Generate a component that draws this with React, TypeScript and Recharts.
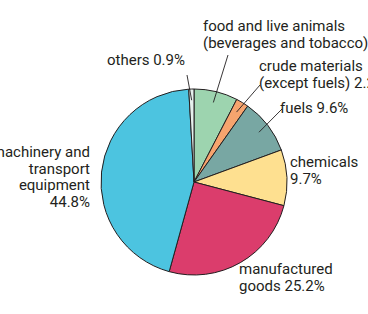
import { PieChart, Pie, Cell } from 'recharts';

const categories = [
  'food and live animals (beverages and tobacco)',
  'crude materials (except fuels)',
  'fuels',
  'chemicals',
  'manufactured goods',
  'machinery and transport equipment',
  'others'
];
const shares = [7.6, 2.2, 9.6, 9.7, 25.2, 44.8, 0.9];
const labelLines = [
  ['food and live animals', '(beverages and tobacco) 7.6%'],
  ['crude materials', '(except fuels) 2.2%'],
  ['fuels 9.6%'],
  ['chemicals', '9.7%'],
  ['manufactured', 'goods 25.2%'],
  ['machinery and', 'transport', 'equipment', '44.8%'],
  ['others 0.9%']
];
const colors = ['#9dd4af', '#f6a46e', '#78a7a3', '#fee090', '#db3d6c', '#4cc4e0', '#e6f1ed'];

// label placement relative to pie centre: text start, anchor, optional leader line
const labelPlace = [
  { dx: 9, dy: -151, anchor: 'start', line: [34, -127] },
  { dx: 65, dy: -111, anchor: 'start', line: [66, -97] },
  { dx: 86, dy: -69, anchor: 'start', line: [88, -73] },
  { dx: 96, dy: -15, anchor: 'start' },
  { dx: 45, dy: 92, anchor: 'start' },
  { dx: -104, dy: -25, anchor: 'end' },
  { dx: -9, dy: -117, anchor: 'end', line: [-7, -107] }
];

const data = categories.map((name, i) => ({ name, value: shares[i] }));

const FONT = 'Roboto, "Liberation Sans", sans-serif';
const LINE_H = 16.5;

function renderLabel(props: any) {
  const { cx, cy, midAngle, outerRadius, index } = props;
  const p = labelPlace[index];
  const rad = Math.PI / 180;
  const tx = cx + p.dx;
  const ty = cy + p.dy;
  let leader = null;
  if (p.line) {
    const r = outerRadius * 0.88;
    const ex = cx + r * Math.cos(-midAngle * rad);
    const ey = cy + r * Math.sin(-midAngle * rad);
    leader = (
      <line x1={cx + p.line[0]} y1={cy + p.line[1]} x2={ex} y2={ey} stroke="#231f20" strokeWidth={0.9} />
    );
  }
  return (
    <g key={`lbl-${index}`}>
      {leader}
      <text x={tx} y={ty} textAnchor={p.anchor} fill="#231f20" fontSize={15} fontFamily={FONT}>
        {labelLines[index].map((t, j) => (
          <tspan key={j} x={tx} dy={j === 0 ? 0 : LINE_H}>{t}</tspan>
        ))}
      </text>
    </g>
  );
}

export default function App() {
  return (
    <div style={{ position: 'fixed', left: 0, top: 0, width: 368, height: 314, background: '#fff' }}>
      <PieChart width={368} height={314} style={{ overflow: 'visible' }}>
        <Pie
          data={data}
          dataKey="value"
          nameKey="name"
          cx={189}
          cy={177}
          outerRadius={93}
          innerRadius={0}
          startAngle={90}
          endAngle={-270}
          stroke="#231f20"
          strokeWidth={1}
          label={renderLabel}
          labelLine={false}
          isAnimationActive={false}
        >
          {data.map((entry, index) => (
            <Cell key={`cell-${index}`} fill={colors[index]} />
          ))}
        </Pie>
      </PieChart>
    </div>
  );
}
